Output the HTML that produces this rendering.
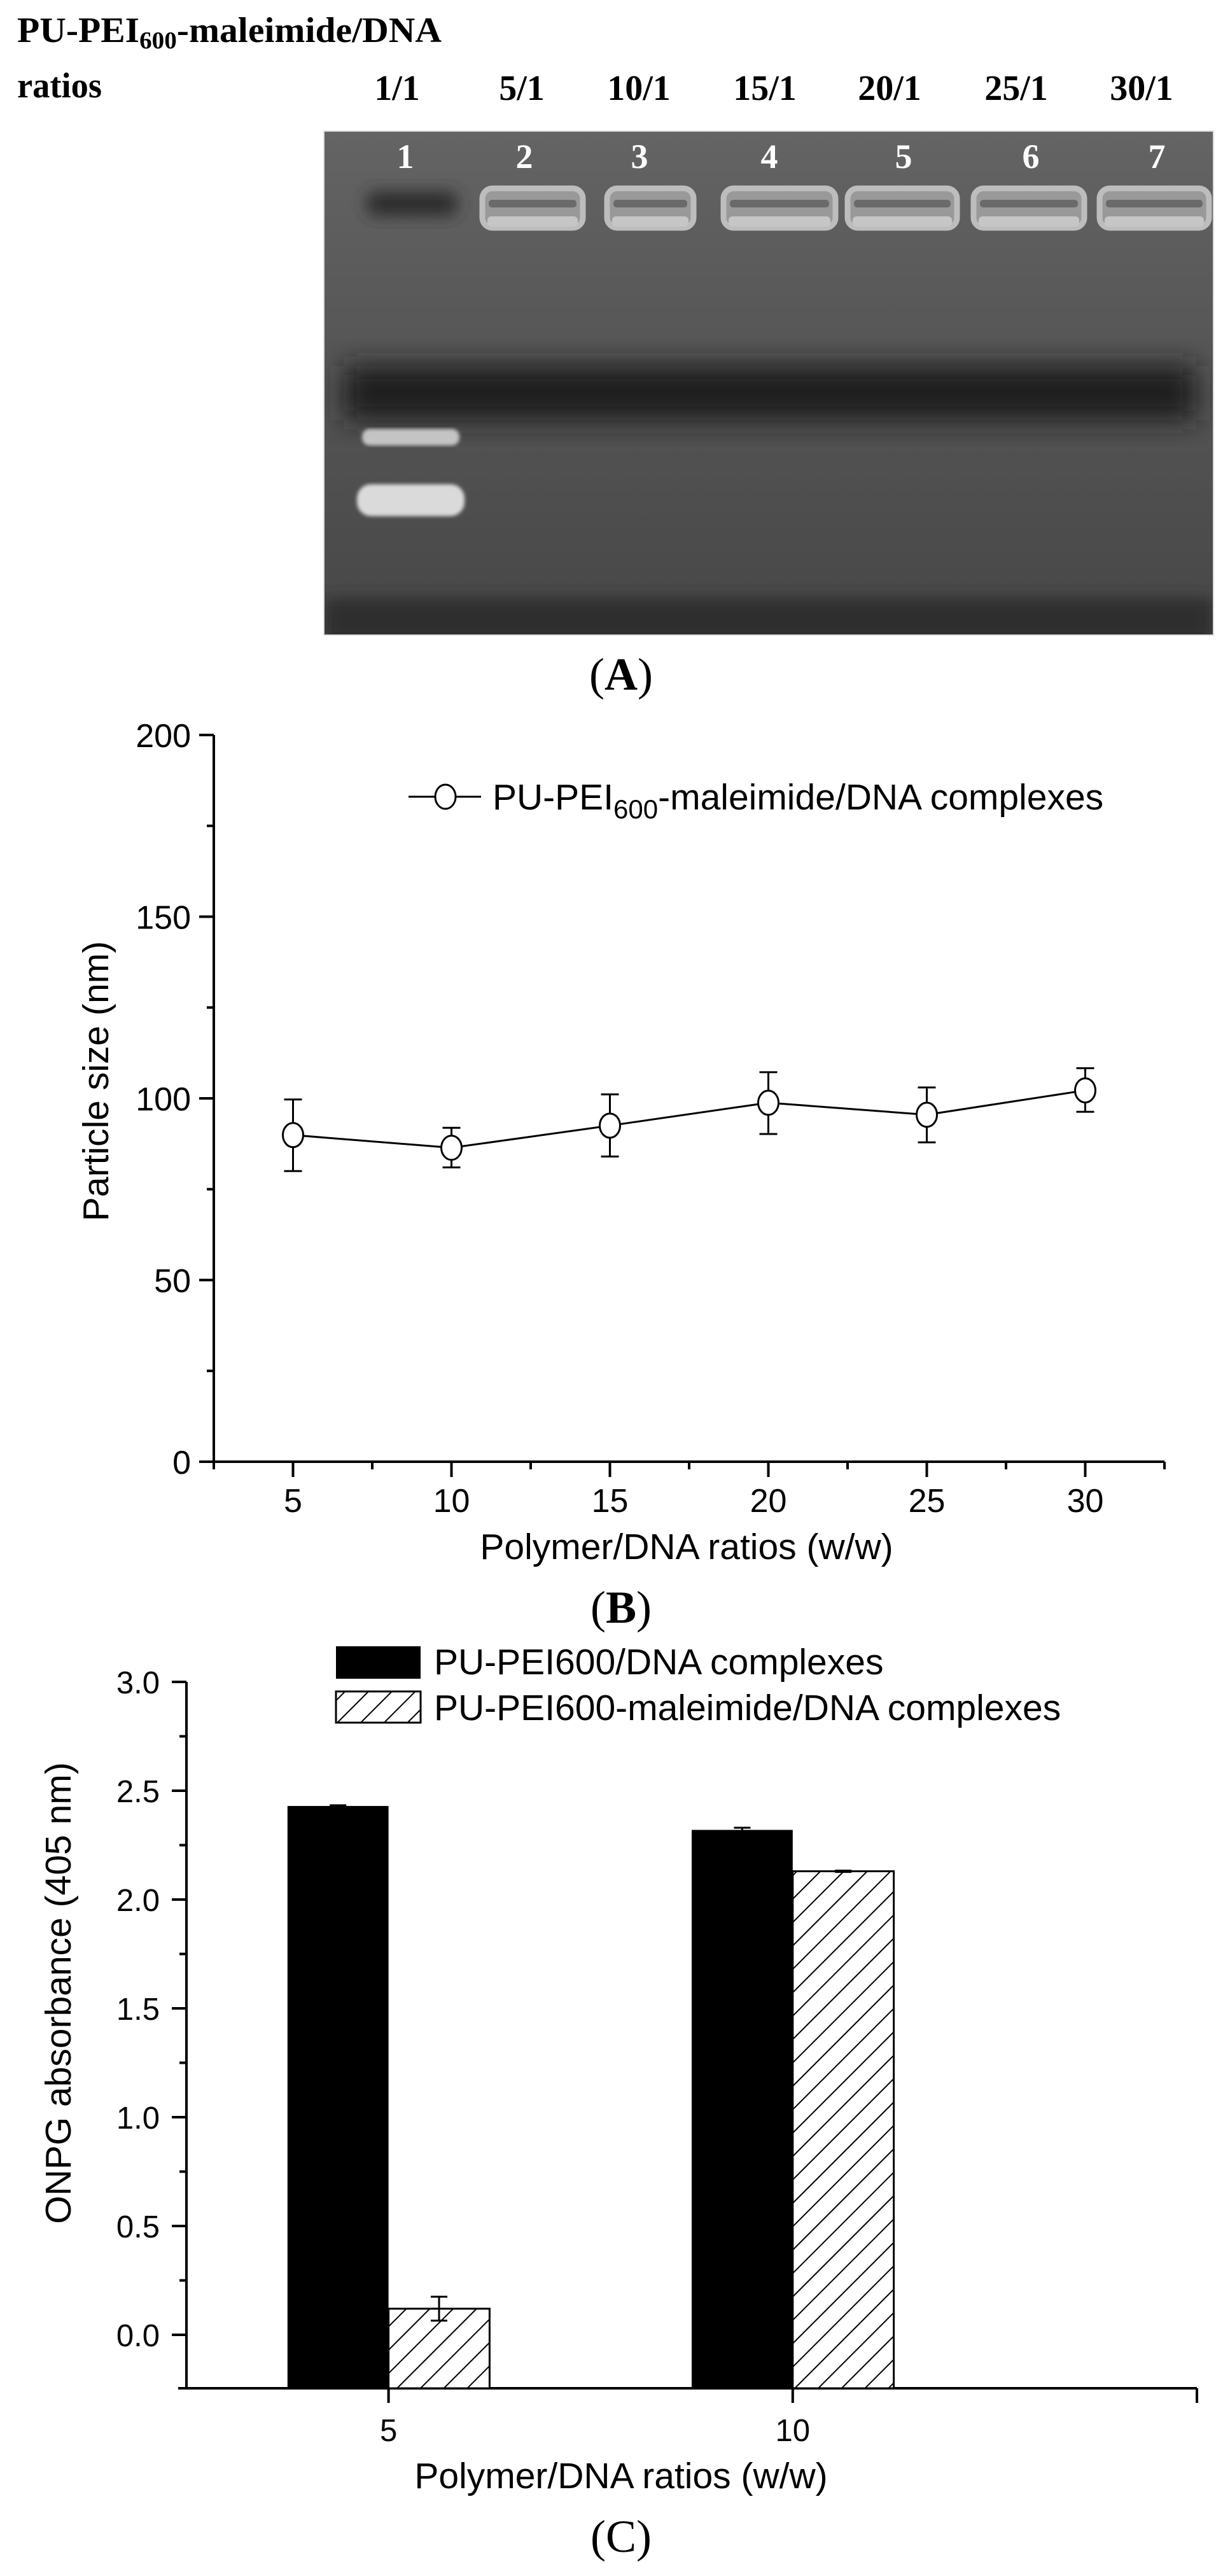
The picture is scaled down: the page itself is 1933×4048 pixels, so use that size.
<!DOCTYPE html>
<html><head><meta charset="utf-8"><style>
html,body{margin:0;padding:0;background:#fff;}
svg{display:block;}
.sans{font-family:"Liberation Sans",Arial,sans-serif;}
.serif{font-family:"Liberation Serif","Times New Roman",serif;}
</style></head>
<body>
<svg id="fig" width="1933" height="4048" viewBox="0 0 1933 4048" xmlns="http://www.w3.org/2000/svg">
<defs>
<clipPath id="gelclip"><rect x="509" y="206" width="1398" height="792"/></clipPath>
<filter id="blur8" x="-20%" y="-50%" width="140%" height="200%"><feGaussianBlur stdDeviation="12"/></filter>
<filter id="blur3"><feGaussianBlur stdDeviation="3"/></filter>
<filter id="blur20" x="-20%" y="-50%" width="140%" height="200%"><feGaussianBlur stdDeviation="22"/></filter>
<linearGradient id="gelbg" x1="0" y1="0" x2="0" y2="1">
<stop offset="0" stop-color="#646464"/><stop offset="0.4" stop-color="#575757"/><stop offset="1" stop-color="#474747"/>
</linearGradient>
<pattern id="hatch" patternUnits="userSpaceOnUse" width="26" height="26" patternTransform="rotate(45)">
<rect width="26" height="26" fill="#fff"/><line x1="0" y1="0" x2="0" y2="26" stroke="#000" stroke-width="4"/>
</pattern>
</defs>

<!-- Panel A: gel -->
<g id="panelA">
<text class="serif" x="27" y="66" font-size="56" font-weight="bold" textLength="667" lengthAdjust="spacingAndGlyphs">PU-PEI<tspan font-size="38" dy="10">600</tspan><tspan dy="-10">-maleimide/DNA</tspan></text>
<text class="serif" x="27" y="153" font-size="56" font-weight="bold" textLength="133" lengthAdjust="spacingAndGlyphs">ratios</text>
<g id="ratioLabels" class="serif" font-size="56" font-weight="bold" text-anchor="middle"></g>
<g clip-path="url(#gelclip)">
<rect x="509" y="206" width="1398" height="792" fill="url(#gelbg)"/>
<rect x="540" y="575" width="1340" height="85" fill="#1a1a1a" filter="url(#blur20)"/>
<rect x="509" y="940" width="1398" height="70" fill="#2e2e2e" filter="url(#blur8)"/>
</g>
<rect x="509" y="206" width="1398" height="792" fill="none" stroke="#ddd" stroke-width="2"/>
<g id="wells"></g>
<rect x="575" y="300" width="145" height="40" rx="18" fill="#2d2d2d" filter="url(#blur8)"/>
<rect x="569" y="674" width="153" height="26" rx="12" fill="#c4c4c4" filter="url(#blur3)"/>
<rect x="561" y="761" width="169" height="50" rx="22" fill="#dadada" filter="url(#blur3)"/>
<g id="laneNums" class="serif" font-size="54" font-weight="bold" fill="#fff" text-anchor="middle"></g>
<text class="serif" x="976" y="1084" font-size="72" text-anchor="middle">(<tspan font-weight="bold">A</tspan>)</text>
</g>

<!-- Panel B -->
<g id="panelB"></g>
<text class="serif" x="976" y="2550" font-size="72" text-anchor="middle">(<tspan font-weight="bold">B</tspan>)</text>

<!-- Panel C -->
<g id="panelC"></g>
<text class="serif" x="976" y="4010" font-size="72" text-anchor="middle">(C)</text>
</svg>

<script>
// ---- Gel labels ----
const ratioTexts = ["1/1","5/1","10/1","15/1","20/1","25/1","30/1"];
const laneNumbers = ["1","2","3","4","5","6","7"];
// ---- Chart B data ----
const bX = [5,10,15,20,25,30];
const bY = [89.9,86.4,92.5,98.8,95.5,102.2];
const bHi = [99.7,91.9,101.1,107.2,103.0,108.3];
const bLo = [80.0,81.0,84.0,90.2,87.9,96.3];
const bYTicks = [0,50,100,150,200];
const bXTicks = [5,10,15,20,25,30];
// ---- Chart C data ----
const cCats = [5,10];
const cSolid = [2.43,2.32];
const cSolidErr = [0.003,0.01];
const cHatch = [0.12,2.13];
const cHatchErr = [0.055,0.003];
const cYTicks = ["0.0","0.5","1.0","1.5","2.0","2.5","3.0"];
const cXTicks = ["5","10"];

const NS="http://www.w3.org/2000/svg";
function mk(tag, parent, attrs){const e=document.createElementNS(NS,tag);for(const k in attrs)e.setAttribute(k,attrs[k]);parent.appendChild(e);return e;}

// Gel
const laneX=[637,824,1005,1209,1420,1620,1818];
const ratioX=[624,820,1004,1202,1398,1597,1794];
const rl=document.getElementById('ratioLabels');
ratioTexts.forEach((t,i)=>{const e=mk('text',rl,{x:ratioX[i],y:157});e.textContent=t;

});
const ln=document.getElementById('laneNums');
laneNumbers.forEach((t,i)=>{const e=mk('text',ln,{x:laneX[i],y:264});e.textContent=t;

});
const wells=document.getElementById('wells');
const wellX=[[758,916],[954,1090],[1137,1313],[1332,1504],[1530,1704],[1728,1900]];
wellX.forEach((w,i)=>{
 const g=mk('g',wells,{});
 
 
 mk('rect',g,{x:w[0],y:296,width:w[1]-w[0],height:62,rx:16,fill:'#999',stroke:'#bdbdbd','stroke-width':9});
 mk('rect',g,{x:w[0]+10,y:314,width:w[1]-w[0]-20,height:12,rx:5,fill:'#6a6a6a'});
 mk('rect',g,{x:w[0]+8,y:340,width:w[1]-w[0]-16,height:16,rx:6,fill:'#c6c6c6'});
});

// Chart B
(function(){
 const P=document.getElementById('panelB');
 const x0=336,x1=1830,y0=2297,yTop=1155;
 const xs=v=>x0+(v-2.5)*(x1-x0)/30;
 const ys=v=>y0-v*(y0-yTop)/200;
 mk('line',P,{x1:x0,y1:yTop,x2:x0,y2:y0,stroke:'#000','stroke-width':4});
 mk('line',P,{x1:x0-2,y1:y0,x2:x1,y2:y0,stroke:'#000','stroke-width':4});
 for(let v=0;v<=200;v+=25){const maj=v%50===0;mk('line',P,{x1:x0-(maj?23:11),y1:ys(v),x2:x0,y2:ys(v),stroke:'#000','stroke-width':4});}
 bYTicks.forEach(v=>{const t=mk('text',P,{x:300,y:ys(v)+19,'font-size':52,'text-anchor':'end',class:'sans'});t.textContent=v;
  
  });
 for(let v=2.5;v<=32.5;v+=2.5){const maj=(v%5===0);mk('line',P,{x1:xs(v),y1:y0,x2:xs(v),y2:y0+(maj?24:12),stroke:'#000','stroke-width':4});}
 bXTicks.forEach(v=>{const t=mk('text',P,{x:xs(v),y:2376,'font-size':52,'text-anchor':'middle',class:'sans'});t.textContent=v;
  
  });
 const xt=mk('text',P,{x:1079,y:2450,'font-size':57,'text-anchor':'middle',class:'sans'});xt.textContent='Polymer/DNA ratios (w/w)';
 
 
 const yt=mk('text',P,{x:0,y:0,'font-size':57,'text-anchor':'middle',class:'sans',transform:'translate(170,1699) rotate(-90)'});yt.textContent='Particle size (nm)';
 
 
 const pts=bX.map((v,i)=>xs(v)+','+ys(bY[i])).join(' ');
 const pl=mk('polyline',P,{points:pts,fill:'none',stroke:'#000','stroke-width':3});
 
 
 bX.forEach((v,i)=>{
  const g=mk('g',P,{});
  
  
  const cx=xs(v);
  mk('line',g,{x1:cx,y1:ys(bHi[i]),x2:cx,y2:ys(bLo[i]),stroke:'#000','stroke-width':3});
  mk('line',g,{x1:cx-14,y1:ys(bHi[i]),x2:cx+14,y2:ys(bHi[i]),stroke:'#000','stroke-width':3});
  mk('line',g,{x1:cx-14,y1:ys(bLo[i]),x2:cx+14,y2:ys(bLo[i]),stroke:'#000','stroke-width':3});
  mk('ellipse',g,{cx:cx,cy:ys(bY[i]),rx:16,ry:19,fill:'#fff',stroke:'#000','stroke-width':3});
 });
 const lg=mk('g',P,{});
 
 
 mk('line',lg,{x1:642,y1:1252,x2:756,y2:1252,stroke:'#000','stroke-width':3});
 mk('ellipse',lg,{cx:700,cy:1252,rx:16,ry:19,fill:'#fff',stroke:'#000','stroke-width':3});
 const lt=mk('text',lg,{x:774,y:1272,'font-size':57,class:'sans'});
 lt.innerHTML='PU-PEI<tspan font-size="42" dy="14">600</tspan><tspan dy="-14">-maleimide/DNA complexes</tspan>';
})();

// Chart C
(function(){
 const P=document.getElementById('panelC');
 const x0=293,x1=1881,yBot=3753,y0=3669,yTop=2643;
 const xs=v=>x0+(v-2.5)*(x1-x0)/12.5;
 const ys=v=>y0-v*(y0-yTop)/3;
 mk('line',P,{x1:x0,y1:yTop,x2:x0,y2:yBot,stroke:'#000','stroke-width':4});
 mk('line',P,{x1:x0-13,y1:yBot,x2:x1,y2:yBot,stroke:'#000','stroke-width':4});
 for(let k=0;k<=12;k++){const v=k*0.25;const maj=k%2===0;mk('line',P,{x1:x0-(maj?23:11),y1:ys(v),x2:x0,y2:ys(v),stroke:'#000','stroke-width':4});}
 cYTicks.forEach(s=>{const t=mk('text',P,{x:251,y:ys(parseFloat(s))+18,'font-size':49,'text-anchor':'end',class:'sans'});t.textContent=s;
  
  });
 cXTicks.forEach(s=>{const v=parseFloat(s);mk('line',P,{x1:xs(v),y1:yBot,x2:xs(v),y2:yBot+23,stroke:'#000','stroke-width':4});
  const t=mk('text',P,{x:xs(v),y:3836,'font-size':49,'text-anchor':'middle',class:'sans'});t.textContent=s;
  
  });
 mk('line',P,{x1:x1,y1:yBot,x2:x1,y2:yBot+23,stroke:'#000','stroke-width':4});
 const bw=(x1-x0)/12.5*1.25;
 cCats.forEach((c,i)=>{
  const cx=xs(c);
  const r1=mk('rect',P,{x:cx-bw,y:ys(cSolid[i]),width:bw,height:yBot-ys(cSolid[i]),fill:'#000'});
  
  
  mk('line',P,{x1:cx-bw/2,y1:ys(cSolid[i]+cSolidErr[i]),x2:cx-bw/2,y2:ys(cSolid[i]),stroke:'#000','stroke-width':3});
  mk('line',P,{x1:cx-bw/2-13,y1:ys(cSolid[i]+cSolidErr[i]),x2:cx-bw/2+13,y2:ys(cSolid[i]+cSolidErr[i]),stroke:'#000','stroke-width':3});
  const r2=mk('rect',P,{x:cx,y:ys(cHatch[i]),width:bw,height:yBot-ys(cHatch[i]),fill:'url(#hatch)',stroke:'#000','stroke-width':3});
  
  
  const ex=cx+bw/2;
  mk('line',P,{x1:ex,y1:ys(cHatch[i]+cHatchErr[i]),x2:ex,y2:ys(cHatch[i]-cHatchErr[i]),stroke:'#000','stroke-width':3});
  mk('line',P,{x1:ex-13,y1:ys(cHatch[i]+cHatchErr[i]),x2:ex+13,y2:ys(cHatch[i]+cHatchErr[i]),stroke:'#000','stroke-width':3});
  mk('line',P,{x1:ex-13,y1:ys(cHatch[i]-cHatchErr[i]),x2:ex+13,y2:ys(cHatch[i]-cHatchErr[i]),stroke:'#000','stroke-width':3});
 });
 const xt=mk('text',P,{x:976,y:3910,'font-size':57,'text-anchor':'middle',class:'sans'});xt.textContent='Polymer/DNA ratios (w/w)';
 
 
 const yt=mk('text',P,{x:0,y:0,'font-size':57,'text-anchor':'middle',class:'sans',transform:'translate(111,3132) rotate(-90)'});yt.textContent='ONPG absorbance (405 nm)';
 
 
 const l1=mk('g',P,{});
 
 
 mk('rect',l1,{x:528,y:2587,width:133,height:51,fill:'#000'});
 const t1=mk('text',l1,{x:682,y:2631,'font-size':57,class:'sans'});t1.textContent='PU-PEI600/DNA complexes';
 const l2=mk('g',P,{});
 
 
 mk('rect',l2,{x:528,y:2658,width:133,height:49,fill:'url(#hatch)',stroke:'#000','stroke-width':3});
 const t2=mk('text',l2,{x:682,y:2703,'font-size':57,class:'sans'});t2.textContent='PU-PEI600-maleimide/DNA complexes';
})();
</script>
</body></html>
